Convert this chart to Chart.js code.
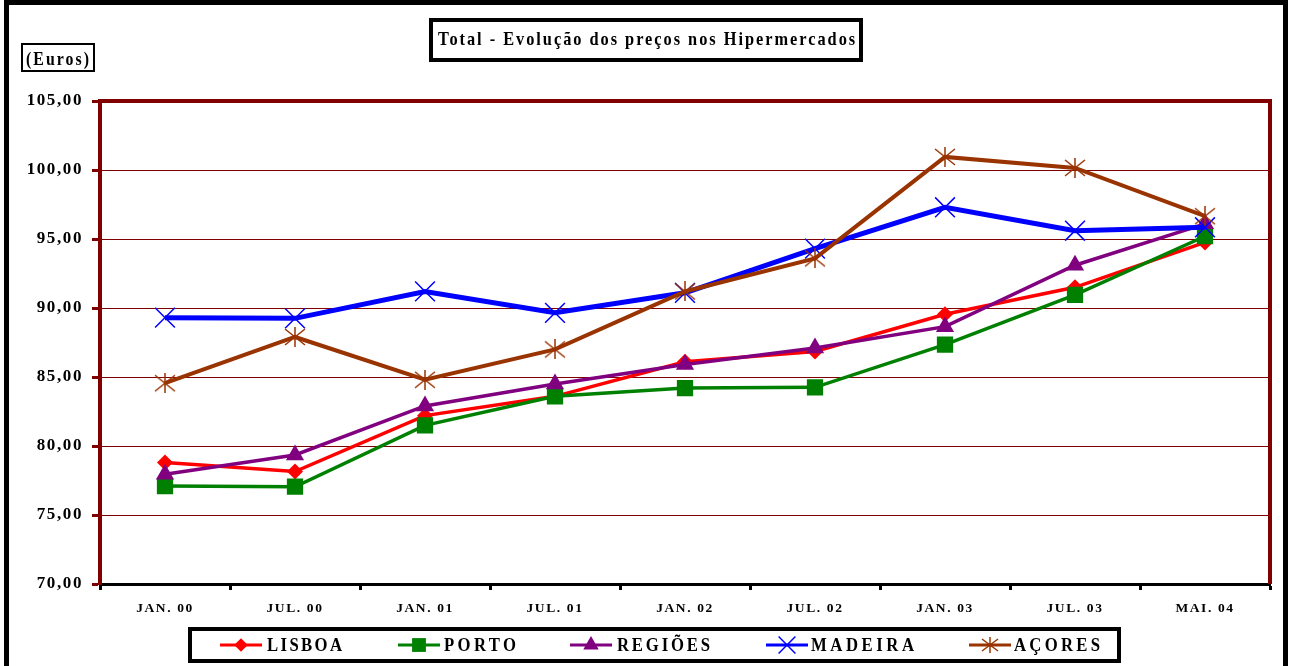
<!DOCTYPE html>
<html>
<head>
<meta charset="utf-8">
<title>Total - Evolução dos preços nos Hipermercados</title>
<script src="https://cdn.jsdelivr.net/npm/chart.js@4.4.1/dist/chart.umd.min.js"></script>
<style>
  body { margin: 0; background: #fff; }
  canvas { display: block; }
</style>
</head>
<body>
<canvas id="precos" width="1292" height="666"></canvas>
<script>
// dados
const categories = ['JAN. 00', 'JUL. 00', 'JAN. 01', 'JUL. 01', 'JAN. 02', 'JUL. 02', 'JAN. 03', 'JUL. 03', 'MAI. 04'];
const seriesNames = ['LISBOA', 'PORTO', 'REGIÕES', 'MADEIRA', 'AÇORES'];
const lisboa  = [78.80, 78.15, 82.20, 83.60, 86.10, 86.85, 89.55, 91.50, 94.75];
const porto   = [77.10, 77.05, 81.50, 83.60, 84.20, 84.25, 87.35, 90.95, 95.20];
const regioes = [77.95, 79.35, 82.90, 84.50, 85.90, 87.10, 88.65, 93.10, 96.10];
const madeira = [89.30, 89.25, 91.20, 89.65, 91.10, 94.30, 97.30, 95.60, 95.85];
const acores  = [84.55, 87.90, 84.80, 87.00, 91.20, 93.60, 100.95, 100.15, 96.65];
const yTicks = { min: 70, max: 105, step: 5 };

const titleText = 'Total - Evolução dos preços nos Hipermercados';
const unitText = '(Euros)';

const FONT = '"Liberation Serif", "Times New Roman", serif';

// marcador estrela (X + traço vertical), como no Excel
function starMarker(color, w, h) {
    const c = document.createElement('canvas');
    c.width = w; c.height = h;
    const g = c.getContext('2d');
    g.strokeStyle = color;
    g.lineWidth = 1.5;
    g.beginPath();
    g.moveTo(w / 2, 0); g.lineTo(w / 2, h);
    g.moveTo(1, 2); g.lineTo(w - 1, h - 2);
    g.moveTo(w - 1, 2); g.lineTo(1, h - 2);
    g.stroke();
    return c;
}

const estrela = starMarker('#993300', 22, 20);
const estrelaLegenda = starMarker('#993300', 18, 16);

function serie(label, data, color, width, style, radius, order) {
    return {
        label: label,
        data: data,
        borderColor: color,
        backgroundColor: color,
        borderWidth: width,
        pointStyle: style,
        pointRadius: radius,
        pointHoverRadius: radius,
        pointBackgroundColor: color,
        pointBorderColor: color,
        pointBorderWidth: (style === 'crossRot') ? 1.5 : 0,
        tension: 0,
        order: order
    };
}

// escreve texto com espaçamento ajustado a uma largura
function spacedText(ctx, text, x, y, size, width, sx) {
    ctx.save();
    ctx.font = 'bold ' + size + 'px ' + FONT;
    ctx.letterSpacing = '0px';
    ctx.translate(x, y);
    ctx.scale(sx, 1);
    const w = ctx.measureText(text).width;
    const n = [...text].length;
    const sp = (width / sx - w) / (n - 1);
    ctx.letterSpacing = sp.toFixed(2) + 'px';
    ctx.fillStyle = '#000';
    ctx.textAlign = 'left';
    ctx.textBaseline = 'alphabetic';
    ctx.fillText(text, 0, 0);
    ctx.restore();
}

// posições da legenda (início do traço, início do texto, largura do texto)
const legendPos = [[220, 267, 75], [398, 444, 72], [570, 617, 93], [766, 811, 103], [969, 1014, 86]];

const molduras = {
    id: 'molduras',
    beforeDraw(chart) {
        const ctx = chart.ctx;
        ctx.save();
        ctx.fillStyle = '#fff';
        ctx.fillRect(0, 0, chart.width, chart.height);
        ctx.strokeStyle = '#000';
        ctx.lineWidth = 5;
        ctx.beginPath();
        ctx.moveTo(6.5, chart.height);
        ctx.lineTo(6.5, 2.5);
        ctx.lineTo(1285.5, 2.5);
        ctx.lineTo(1285.5, chart.height);
        ctx.stroke();
        ctx.restore();
        ctx.letterSpacing = '1.6px';
    },
    afterDraw(chart) {
        const ctx = chart.ctx;
        const a = chart.chartArea;
        ctx.save();
        // topo e lado direito da área do gráfico
        ctx.strokeStyle = '#800000';
        ctx.lineWidth = 4;
        ctx.beginPath();
        ctx.moveTo(a.left - 2, a.top);
        ctx.lineTo(a.right, a.top);
        ctx.lineTo(a.right, a.bottom);
        ctx.stroke();

        // caixa do título
        ctx.strokeStyle = '#000';
        ctx.lineWidth = 4;
        ctx.strokeRect(431, 20, 430, 40);
        spacedText(ctx, titleText, 438, 45, 19, 417, 0.86);

        // caixa (Euros)
        ctx.lineWidth = 2;
        ctx.strokeRect(22, 44, 72, 27);
        spacedText(ctx, unitText, 26, 65, 18, 63, 0.88);

        // legenda
        ctx.lineWidth = 4;
        ctx.strokeRect(190, 629, 929, 32);
        const helpers = Chart.helpers;
        chart.data.datasets.forEach((ds, i) => {
            const p = legendPos[i];
            const y = 645;
            ctx.strokeStyle = ds.borderColor;
            ctx.fillStyle = ds.borderColor;
            ctx.lineWidth = 3;
            ctx.beginPath();
            ctx.moveTo(p[0], y);
            ctx.lineTo(p[0] + 42, y);
            ctx.stroke();
            const st = ds.pointStyle === estrela ? estrelaLegenda : ds.pointStyle;
            if (helpers && helpers.drawPoint) {
                ctx.lineWidth = ds.pointBorderWidth || 1;
                helpers.drawPoint(ctx, {
                    pointStyle: st,
                    rotation: 0,
                    radius: ds.pointRadius * 0.85,
                    borderWidth: ds.pointBorderWidth
                }, p[0] + 21, y);
            }
            spacedText(ctx, ds.label, p[1], 651, 19, p[2], 0.88);
        });
        ctx.restore();
    }
};

new Chart(document.getElementById('precos'), {
    type: 'line',
    data: {
        labels: categories,
        datasets: [
            serie(seriesNames[0], lisboa,  '#FF0000', 3.5, 'rectRot', 8, 4),
            serie(seriesNames[1], porto,   '#008000', 3.5, 'rect', 11.5, 3),
            serie(seriesNames[2], regioes, '#800080', 3.5, 'triangle', 10.5, 2),
            serie(seriesNames[3], madeira, '#0000FF', 5, 'crossRot', 14, 1),
            serie(seriesNames[4], acores,  '#993300', 4, estrela, 11, 0)
        ]
    },
    options: {
        responsive: false,
        animation: false,
        devicePixelRatio: 1,
        layout: { padding: { top: 101, right: 22, left: 0, bottom: 0 } },
        plugins: {
            legend: { display: false },
            title: { display: false },
            tooltip: { enabled: false }
        },
        scales: {
            x: {
                offset: true,
                afterFit(scale) { scale.height = 82; },
                grid: {
                    offset: true,
                    drawOnChartArea: false,
                    drawTicks: true,
                    tickLength: 6,
                    tickColor: '#000',
                    tickWidth: 3
                },
                border: { display: true, color: '#000', width: 3 },
                ticks: {
                    color: '#000',
                    padding: 10,
                    maxRotation: 0,
                    autoSkip: false,
                    font: { family: FONT, size: 13.5, weight: 'bold' }
                }
            },
            y: {
                min: yTicks.min,
                max: yTicks.max,
                afterFit(scale) { scale.width = 100; },
                grid: {
                    color: '#800000',
                    lineWidth: 1,
                    drawTicks: true,
                    tickLength: 8,
                    tickColor: '#800000',
                    tickWidth: 3
                },
                border: { display: true, color: '#800000', width: 4 },
                ticks: {
                    stepSize: yTicks.step,
                    color: '#000',
                    padding: 9,
                    font: { family: FONT, size: 17, weight: 'bold' },
                    callback: (v) => v.toFixed(2).replace('.', ',')
                }
            }
        }
    },
    plugins: [molduras]
});
</script>
</body>
</html>
